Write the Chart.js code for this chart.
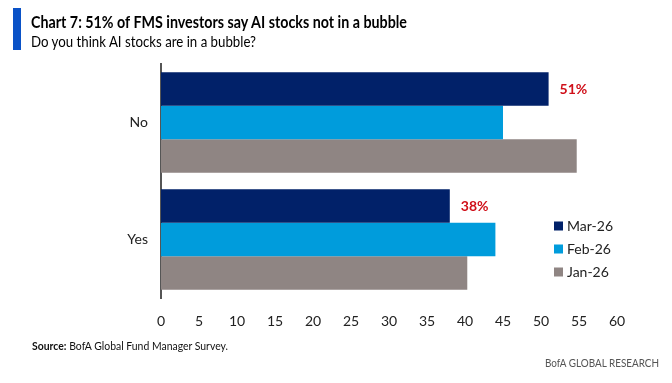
<!DOCTYPE html>
<html><head><meta charset="utf-8">
<script src="https://cdn.jsdelivr.net/npm/chart.js@4.4.1/dist/chart.umd.min.js"></script>
<style>
html,body{margin:0;padding:0;background:#fff;}
#wrap{position:relative;width:672px;height:383px;overflow:hidden;font-family:Lato,"Open Sans",sans-serif;}
#c{position:absolute;left:0;top:0;}
.t{position:absolute;white-space:nowrap;color:#000;transform-origin:0 50%;}
#bar{position:absolute;left:13px;top:8px;width:8px;height:42px;background:#0a52c7;}
#title{left:31px;top:11px;font-size:17px;font-weight:700;}
#sub{left:31px;top:32px;font-size:15px;}
#src{left:32px;top:338px;font-size:12px;color:#111;}
#brand{left:545px;top:355px;font-size:12px;color:#555;}
</style></head>
<body><div id="wrap">
<canvas id="c" width="672" height="383"></canvas>
<div id="bar"></div>
<div class="t" id="title" data-w="376">Chart 7: 51% of FMS investors say AI stocks not in a bubble</div>
<div class="t" id="sub" data-w="225">Do you think AI stocks are in a bubble?</div>
<div class="t" id="src" data-w="196"><b>Source:</b> BofA Global Fund Manager Survey.</div>
<div class="t" id="brand" data-w="114">BofA GLOBAL RESEARCH</div>
</div>
<script>
const categories = ['No', 'Yes'];
const seriesNames = ['Mar-26', 'Feb-26', 'Jan-26'];
const mar26 = [51, 38];
const feb26 = [45, 44];
const jan26 = [54.7, 40.3];
const xTicks = [0, 5, 10, 15, 20, 25, 30, 35, 40, 45, 50, 55, 60];
const colors = ['#012169', '#009cdc', '#8f8583'];

const FONT = 'Lato, "Open Sans", sans-serif';

document.querySelectorAll('.t').forEach(el => {
  const w = el.getBoundingClientRect().width;
  const target = +el.dataset.w;
  if (w > 0) el.style.transform = 'scaleX(' + (target / w) + ')';
});

const overlay = {
  id: 'overlay',
  afterDatasetsDraw(chart) {
    const ctx = chart.ctx;
    ctx.save();
    const meta = chart.getDatasetMeta(0);
    ctx.font = 'bold 14px ' + FONT;
    ctx.fillStyle = '#d0101a';
    ctx.textBaseline = 'middle';
    ctx.textAlign = 'left';
    meta.data.forEach((bar, i) => {
      ctx.fillText(chart.data.datasets[0].data[i] + '%', bar.x + 11, bar.y + 1);
    });
    ctx.font = '14px ' + FONT;
    chart.data.datasets.forEach((ds, i) => {
      const y = 226 + i * 23;
      ctx.fillStyle = ds.backgroundColor;
      ctx.fillRect(554, y - 4.5, 9, 9);
      ctx.fillStyle = '#222';
      ctx.fillText(ds.label, 567, y);
    });
    ctx.restore();
  }
};

new Chart(document.getElementById('c'), {
  type: 'bar',
  data: {
    labels: categories,
    datasets: [
      { label: seriesNames[0], data: mar26, backgroundColor: colors[0] },
      { label: seriesNames[1], data: feb26, backgroundColor: colors[1] },
      { label: seriesNames[2], data: jan26, backgroundColor: colors[2] }
    ]
  },
  options: {
    indexAxis: 'y',
    responsive: false,
    animation: false,
    devicePixelRatio: 1,
    layout: { padding: { top: 64, right: 55, left: 0, bottom: 0 } },
    datasets: { bar: { categoryPercentage: 0.86, barPercentage: 1, borderWidth: 0 } },
    plugins: { legend: { display: false }, tooltip: { enabled: false }, title: { display: false } },
    scales: {
      x: {
        min: 0, max: 60,
        afterBuildTicks(s) { s.ticks = xTicks.map(v => ({ value: v })); },
        afterFit(s) { s.height = 85; },
        grid: { display: false, drawTicks: false },
        border: { display: false },
        ticks: { padding: 15, color: '#222', font: { family: FONT, size: 14 } }
      },
      y: {
        afterFit(s) { s.width = 161; },
        grid: { display: false, drawTicks: false },
        border: { display: true, color: '#555', width: 2 },
        ticks: { padding: 13, color: '#222', font: { family: FONT, size: 14 } }
      }
    }
  },
  plugins: [overlay]
});
</script>
</body></html>
